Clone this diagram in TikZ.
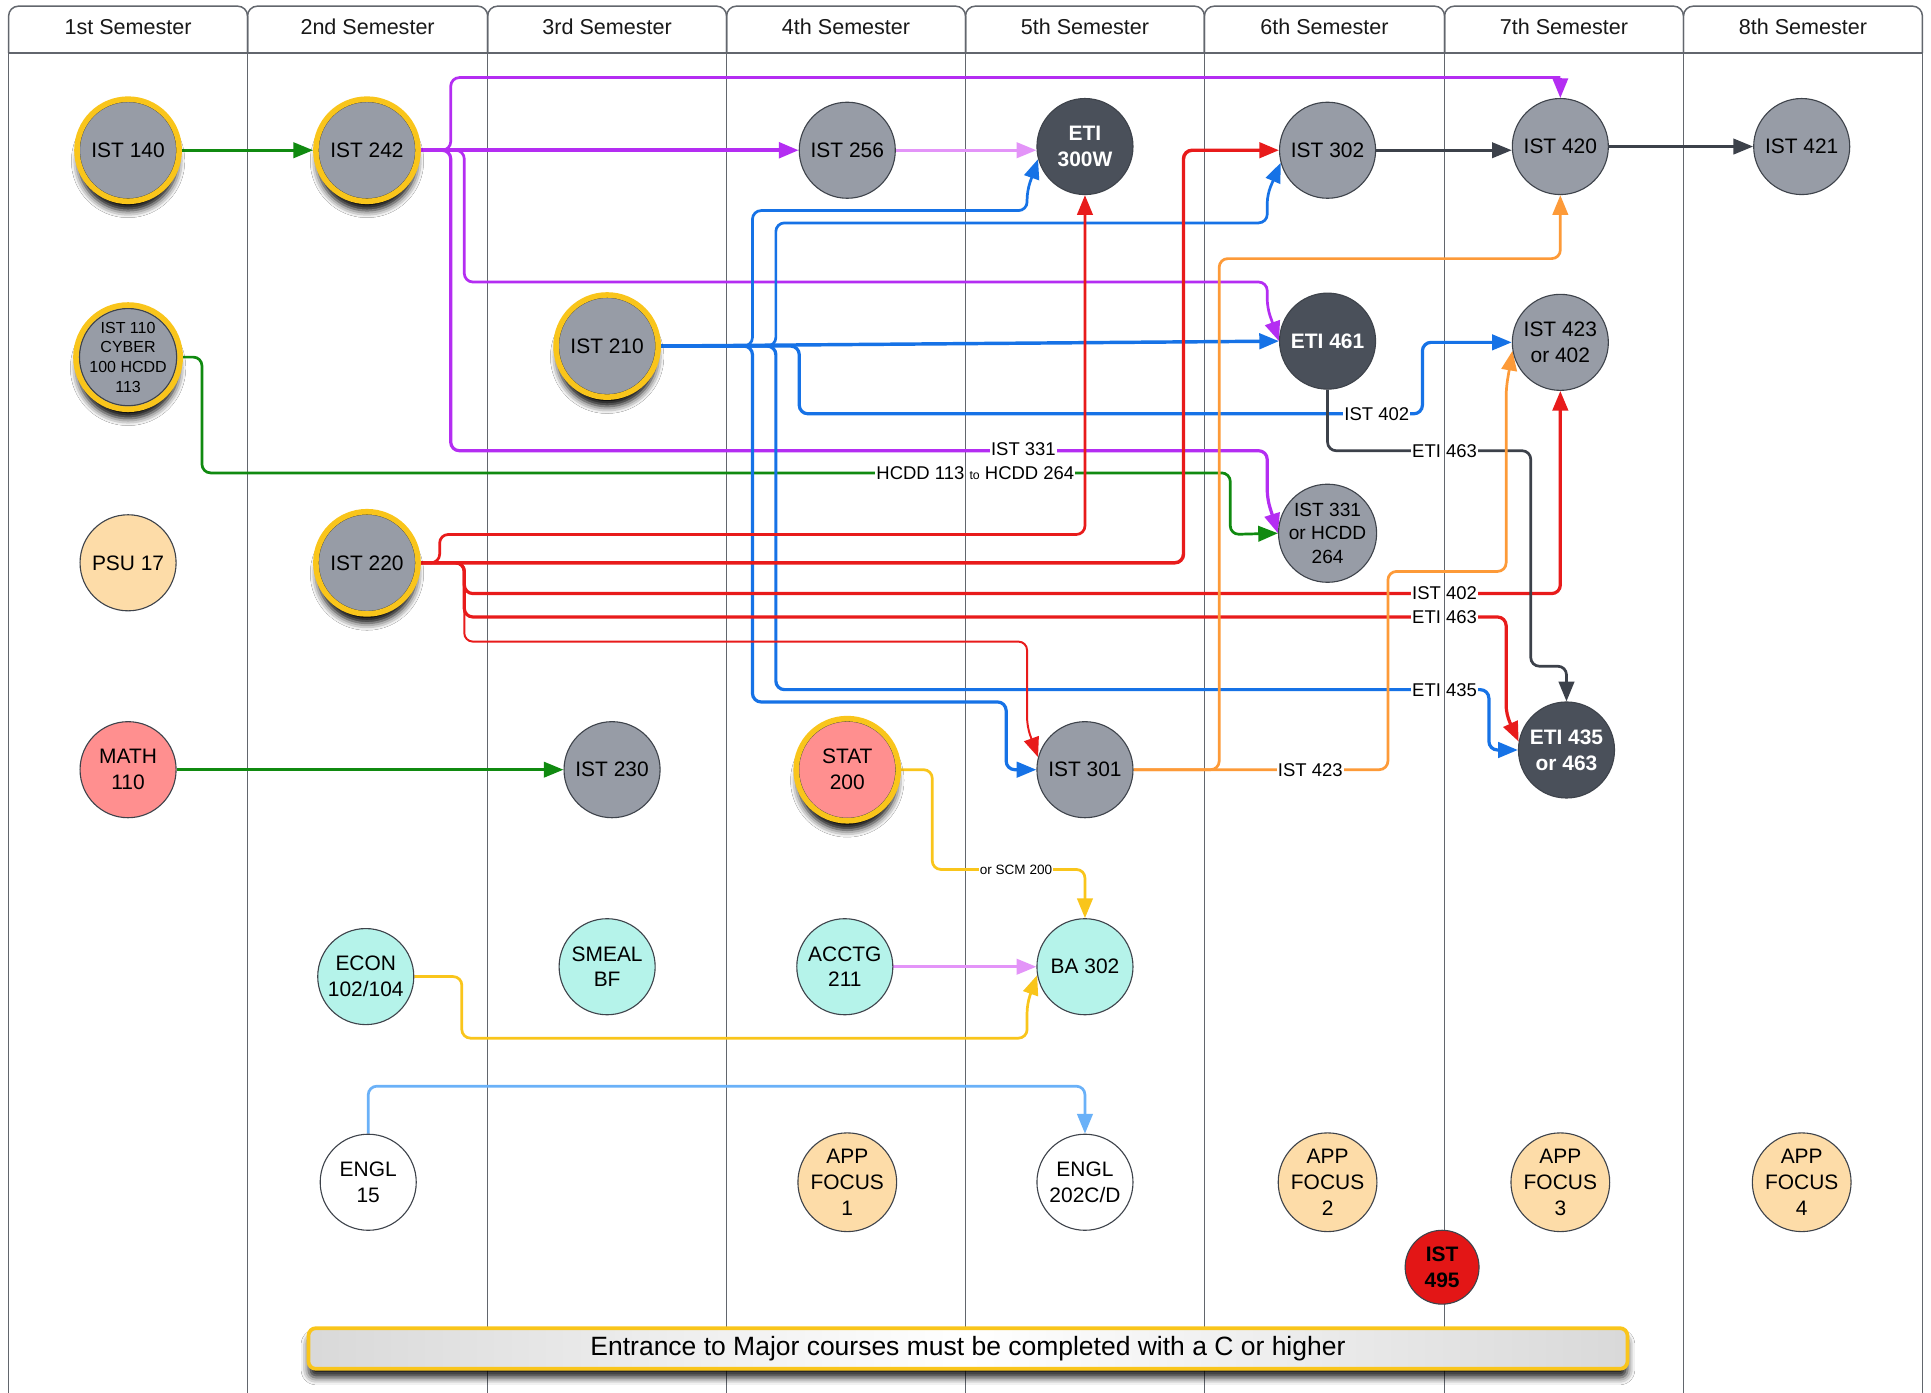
\documentclass[tikz,border=0pt]{standalone}
\usepackage{fontspec}
\setmainfont{Liberation Sans}
\usetikzlibrary{arrows.meta,shadows.blur}
\pgfdeclarelayer{front}
\pgfsetlayers{main,front}
\definecolor{nodegray}{HTML}{979CA6}
\definecolor{darkfill}{HTML}{4A505A}
\definecolor{nodeborder}{HTML}{3E434B}
\definecolor{salmon}{HTML}{FF8F8F}
\definecolor{mint}{HTML}{B5F3EA}
\definecolor{peach}{HTML}{FDDCA8}
\definecolor{gold}{HTML}{F9C51B}
\definecolor{rednode}{HTML}{E31616}
\definecolor{lanegray}{HTML}{62666D}
\definecolor{cgreen}{HTML}{108A10}
\definecolor{cpurple}{HTML}{B42DF2}
\definecolor{cviolet}{HTML}{E394F8}
\definecolor{cblue}{HTML}{1672E6}
\definecolor{cred}{HTML}{E81B1B}
\definecolor{corange}{HTML}{FD9A38}
\definecolor{cdark}{HTML}{3C414A}
\definecolor{cyellow}{HTML}{F9C51B}
\definecolor{clblue}{HTML}{6AB1F8}
\tikzset{
  course/.style={circle, minimum size=78pt, inner sep=0pt, align=center, draw=nodeborder, line width=0.9pt, font=\fontsize{17}{21}\selectfont, text=black},
  graynode/.style={course, fill=nodegray},
  darknode/.style={course, fill=darkfill, text=white, font=\fontsize{17}{21}\selectfont\bfseries},
  salmonnode/.style={course, fill=salmon},
  mintnode/.style={course, fill=mint},
  peachnode/.style={course, fill=peach},
  whitenode/.style={course, fill=white},
  goldring/.style={minimum size=83pt, draw=gold, line width=4.5pt,
     path picture={\draw[nodeborder, line width=1pt] (path picture bounding box.center) circle (39.5pt);},
     blur shadow={shadow xshift=0pt, shadow yshift=-9pt, shadow blur radius=6pt, shadow opacity=100, shadow scale=0.97}},
  conn/.style={line width=2.2pt, rounded corners=7pt, -{Triangle[length=16pt,width=12.5pt]}},
  plainline/.style={line width=2.2pt, rounded corners=7pt},
  lbl/.style={fill=white, inner sep=1pt, font=\fontsize{15}{18}\selectfont},
  colline/.style={draw=lanegray, line width=1.2pt},
  hdr/.style={font=\fontsize{17.5}{21}\selectfont, text=black!90},
}
\begin{document}
\begin{tikzpicture}[x=1pt,y=-1pt]
\useasboundingbox (0,0) rectangle (1568,1131);
\fill[white] (0,0) rectangle (1568,1131);
% swimlanes
\foreach \a/\b in {7/201,201/396,396/590,590/784,784/978,978/1173,1173/1367,1367/1561}
  \draw[colline, rounded corners=8pt] (\a,43) |- (\b,5) -- (\b,43);
\draw[colline, line width=2pt] (7,43) -- (1561,43);
\foreach \x in {7,201,396,590,784,978,1173,1367,1561}
  \draw[colline] (\x,43) -- (\x,1131);
\coordinate (c5) at (784,43);
\node[hdr] (h1) at (104,22) {1st Semester};
\node[hdr] (h2) at (298.5,22) {2nd Semester};
\node[hdr] (h3) at (493,22) {3rd Semester};
\node[hdr] (h4) at (687,22) {4th Semester};
\node[hdr] (h5) at (881,22) {5th Semester};
\node[hdr] (h6) at (1075.5,22) {6th Semester};
\node[hdr] (h7) at (1270,22) {7th Semester};
\node[hdr] (h8) at (1464,22) {8th Semester};

\begin{pgfonlayer}{front}
\node[graynode, goldring] (IST140) at (104,122) {IST 140};
\node[graynode, goldring] (IST242) at (298,122) {IST 242};
\node[graynode] (IST256) at (688,122) {IST 256};
\node[darknode] (ETI300W) at (881,119) {ETI\\300W};
\node[graynode] (IST302) at (1078,122) {IST 302};
\node[graynode] (IST420) at (1267,119) {IST 420};
\node[graynode] (IST421) at (1463,119) {IST 421};
\node[graynode, goldring, font=\fontsize{13}{16}\selectfont] (IST110) at (104,290) {IST 110\\CYBER\\100 HCDD\\113};
\node[graynode, goldring] (IST210) at (493,281) {IST 210};
\node[darknode] (ETI461) at (1078,277) {ETI 461};
\node[graynode] (IST423) at (1267,278) {IST 423\\or 402};
\node[peachnode] (PSU17) at (104,457) {PSU 17};
\node[graynode, goldring] (IST220) at (298,457) {IST 220};
\node[graynode, font=\fontsize{15.5}{19}\selectfont] (IST331) at (1078,433) {IST 331\\or HCDD\\264};
\node[salmonnode] (MATH110) at (104,625) {MATH\\110};
\node[graynode] (IST230) at (497,625) {IST 230};
\node[salmonnode, goldring] (STAT200) at (688,625) {STAT\\200};
\node[graynode] (IST301) at (881,625) {IST 301};
\node[darknode] (ETI435) at (1272,609) {ETI 435\\or 463};
\node[mintnode] (ECON) at (297,793) {ECON\\102/104};
\node[mintnode] (SMEAL) at (493,785) {SMEAL\\BF};
\node[mintnode] (ACCTG) at (686,785) {ACCTG\\211};
\node[mintnode] (BA302) at (881,785) {BA 302};
\node[whitenode] (ENGL15) at (299,960) {ENGL\\15};
\node[peachnode] (APP1) at (688,960) {APP\\FOCUS\\1};
\node[whitenode] (ENGL202) at (881,960) {ENGL\\202C/D};
\node[peachnode] (APP2) at (1078,960) {APP\\FOCUS\\2};
\node[peachnode] (APP3) at (1267,960) {APP\\FOCUS\\3};
\node[peachnode] (APP4) at (1463,960) {APP\\FOCUS\\4};
\node[course, fill=rednode, minimum size=60pt, font=\fontsize{17}{21}\selectfont\bfseries] (IST495) at (1171,1029) {IST\\495};
\node[draw=gold, line width=3pt, rounded corners=6pt, minimum width=1071pt, minimum height=33pt,
      left color=black!15, right color=black!15, middle color=white,
      blur shadow={shadow xshift=0pt, shadow yshift=-7pt, shadow blur radius=6pt, shadow opacity=90},
      font=\fontsize{21.5}{25}\selectfont] (banner) at (786,1095) {Entrance to Major courses must be completed with a C or higher};
\end{pgfonlayer}

% ---------- connectors ----------
% green
\draw[conn, cgreen] (IST140.east) -- (IST242.west);
\draw[conn, cgreen] (MATH110.east) -- (IST230.west);
\draw[conn, cgreen] (IST110.east) -- (164,290) -- (164,384) -- (999,384) -- (999,434) -- (IST331.west);
% purple from IST 242
\draw[conn, cpurple, line width=3pt] (IST242.east) -- (IST256.west);
\coordinate (k420) at (1267,63);
\draw[plainline, cpurple] (IST242.east) -- (366,122) -- (366,63) -- (k420);
\draw[conn, cpurple] (k420) -- (IST420.north);
\draw[conn, cpurple] (IST242.east) -- (377,122) -- (377,229) -- (1029,229) -- (1029,250) -- (ETI461.west);
\draw[conn, cpurple, line width=2.6pt] (IST242.east) -- (366,122) -- (366,366) -- (1029,366) -- (1029,405) -- (IST331.west);
% light violet
\draw[conn, cviolet] (IST256.east) -- (IST256.east -| ETI300W.west);
\draw[conn, cviolet] (ACCTG.east) -- (ACCTG.east -| BA302.west);
% blue from IST 210
\draw[conn, cblue] (IST210.east) -- (611,281) -- (611,171) -- (834,171) -- (834,155) -- (ETI300W.195);
\draw[conn, cblue] (IST210.east) -- (630,281) -- (630,181) -- (1029,181) -- (1029,158) -- (IST302.195);
\draw[conn, cblue, line width=2.8pt] (IST210.east) -- (ETI461.west);
\draw[conn, cblue, line width=2.6pt] (IST210.east) -- (649,281) -- (649,336) -- (1155,336) -- (1155,278) -- (IST423.west);
\draw[conn, cblue, line width=2.6pt] (IST210.east) -- (611,281) -- (611,570) -- (817,570) -- (817,625) -- (IST301.west);
\draw[conn, cblue, line width=2.6pt] (IST210.east) -- (630,281) -- (630,560) -- (1209,560) -- (1209,609) -- (ETI435.west);
% red from IST 220
\draw[conn, cred] (IST220.east) -- (357,457) -- (357,434) -- (881,434) -- (ETI300W.south);
\draw[conn, cred, line width=2.8pt] (IST220.east) -- (961,457) -- (961,122) -- (IST302.west);
\draw[conn, cred, line width=2.6pt] (IST220.east) -- (377,457) -- (377,482) -- (1267,482) -- (IST423.south);
\draw[conn, cred, line width=2.6pt] (IST220.east) -- (377,457) -- (377,501) -- (1223,501) -- (1223,580) -- (ETI435.170);
\draw[conn, cred, line width=1.6pt] (IST220.east) -- (377,457) -- (377,521) -- (834,521) -- (834,590) -- (IST301.165);
% dark
\draw[conn, cdark] (ETI461.south) -- (1078,366) -- (1243,366) -- (1243,541) -- (1272,541) -- (ETI435.north);
\draw[conn, cdark] (IST302.east) -- (IST302.east -| IST420.west);
\draw[conn, cdark] (IST420.east) -- (IST421.west);
% orange from IST 301
\draw[conn, corange] (IST301.east) -- (990,625) -- (990,210) -- (1267,210) -- (IST420.south);
\draw[conn, corange] (IST301.east) -- (1127,625) -- (1127,464) -- (1223,464) -- (1223,315) -- (IST423.190);
% yellow
\draw[conn, cyellow] (STAT200.east) -- (757,625) -- (757,706) -- (881,706) -- (BA302.north);
\draw[conn, cyellow] (ECON.east) -- (375,793) -- (375,843) -- (834,843) -- (834,815) -- (BA302.190);
% light blue
\draw[conn, clblue] (ENGL15.north) -- (299,882) -- (881,882) -- (ENGL202.north);

% ---------- connector labels ----------
\node[lbl] (l331) at (831,365) {IST 331};
\node[lbl] (lhcdd) at (792,384) {HCDD 113 {\fontsize{10}{12}\selectfont to} HCDD 264};
\draw[colline] (lhcdd.north -| c5) -- (lhcdd.south -| c5);
\node[lbl] (l402a) at (1118,336) {IST 402};
\node[lbl] (l463a) at (1173,366) {ETI 463};
\node[lbl] (l402b) at (1173,482) {IST 402};
\node[lbl] (l463b) at (1173,501) {ETI 463};
\node[lbl] (l435) at (1173,560) {ETI 435};
\foreach \n in {l463a,l402b,l463b,l435} \draw[colline] (\n.north) -- (\n.south);
\node[lbl] (l423) at (1064,625) {IST 423};
\node[lbl, font=\fontsize{11}{13}\selectfont] (lscm) at (825,706) {or SCM 200};
\end{tikzpicture}
\end{document}
